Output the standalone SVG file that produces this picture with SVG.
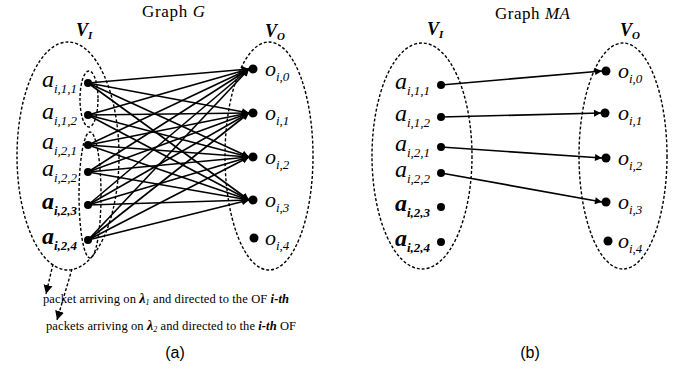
<svg xmlns="http://www.w3.org/2000/svg" width="686" height="369" viewBox="0 0 686 369">
<defs>
<marker id="ah" viewBox="0 0 10 10" refX="10" refY="5" markerWidth="9" markerHeight="7" markerUnits="userSpaceOnUse" orient="auto">
<path d="M0,0 L10,5 L0,10 z" fill="#000"/>
</marker>
<marker id="ah2" viewBox="0 0 10 10" refX="10" refY="5" markerWidth="9" markerHeight="10" markerUnits="userSpaceOnUse" orient="auto">
<path d="M0,0 L10,5 L0,10 z" fill="#000"/>
</marker>
</defs>
<style>
.set{fill:none;stroke:#000;stroke-width:1.4;stroke-dasharray:3 2}
.dot{fill:#000}
.e{stroke:#000;stroke-width:1.6;fill:none;marker-end:url(#ah)}
.lbl{font-family:"Liberation Serif","Times New Roman",serif;font-style:italic;fill:#000}
.big{font-size:24px}
.sub{font-size:13px}
.ob{font-size:22px}
.title{font-family:"Liberation Serif","Times New Roman",serif;font-size:17px;fill:#000}
.cap{font-family:"Liberation Sans",Arial,sans-serif;font-size:16px;fill:#000}
.note{font-family:"Liberation Serif","Times New Roman",serif;font-size:12.5px;fill:#000}
.dash{stroke:#000;stroke-width:1.4;stroke-dasharray:3 2;fill:none;marker-end:url(#ah2)}
</style>

<!-- Graph G -->
<text class="title" x="142" y="17" textLength="63">Graph <tspan font-style="italic">G</tspan></text>
<g id="VI_a">
<ellipse class="set" cx="68" cy="156" rx="51" ry="114"/>
<text class="lbl" x="76" y="36" font-weight="bold" font-size="18">V<tspan font-size="11" dy="3">I</tspan></text>
</g>
<g id="VO_a">
<ellipse class="set" cx="269" cy="156" rx="44" ry="114"/>
<text class="lbl" x="265" y="37" font-weight="bold" font-size="18">V<tspan font-size="11" dy="3">O</tspan></text>
</g>
<g id="grp1_a"><ellipse class="set" cx="89" cy="99" rx="9" ry="28"/></g>
<g id="grp2_a"><ellipse class="set" cx="90" cy="195" rx="11" ry="63"/></g>

<g id="connectors_a">
<line class="e" x1="88" y1="83" x2="249" y2="69"/>
<line class="e" x1="88" y1="83" x2="249" y2="113"/>
<line class="e" x1="88" y1="83" x2="249" y2="157"/>
<line class="e" x1="88" y1="83" x2="249" y2="200"/>
<line class="e" x1="88" y1="115" x2="249" y2="69"/>
<line class="e" x1="88" y1="115" x2="249" y2="113"/>
<line class="e" x1="88" y1="115" x2="249" y2="157"/>
<line class="e" x1="88" y1="115" x2="249" y2="200"/>
<line class="e" x1="88" y1="145" x2="249" y2="69"/>
<line class="e" x1="88" y1="145" x2="249" y2="113"/>
<line class="e" x1="88" y1="145" x2="249" y2="157"/>
<line class="e" x1="88" y1="145" x2="249" y2="200"/>
<line class="e" x1="88" y1="172" x2="249" y2="69"/>
<line class="e" x1="88" y1="172" x2="249" y2="113"/>
<line class="e" x1="88" y1="172" x2="249" y2="157"/>
<line class="e" x1="88" y1="172" x2="249" y2="200"/>
<line class="e" x1="88" y1="205" x2="249" y2="69"/>
<line class="e" x1="88" y1="205" x2="249" y2="113"/>
<line class="e" x1="88" y1="205" x2="249" y2="157"/>
<line class="e" x1="88" y1="205" x2="249" y2="200"/>
<line class="e" x1="88" y1="240" x2="249" y2="69"/>
<line class="e" x1="88" y1="240" x2="249" y2="113"/>
<line class="e" x1="88" y1="240" x2="249" y2="157"/>
<line class="e" x1="88" y1="240" x2="249" y2="200"/>
</g>

<g id="a111_a"><circle class="dot" cx="88" cy="83" r="4"/><text class="lbl" x="42" y="87"><tspan class="big">a</tspan><tspan class="sub" dy="6">i,1,1</tspan></text></g>
<g id="a112_a"><circle class="dot" cx="88" cy="115" r="4"/><text class="lbl" x="42" y="119"><tspan class="big">a</tspan><tspan class="sub" dy="6">i,1,2</tspan></text></g>
<g id="a121_a"><circle class="dot" cx="88" cy="145" r="4"/><text class="lbl" x="42" y="149"><tspan class="big">a</tspan><tspan class="sub" dy="6">i,2,1</tspan></text></g>
<g id="a122_a"><circle class="dot" cx="88" cy="172" r="4"/><text class="lbl" x="42" y="176"><tspan class="big">a</tspan><tspan class="sub" dy="6">i,2,2</tspan></text></g>
<g id="a123_a"><circle class="dot" cx="88" cy="205" r="4"/><text class="lbl" x="42" y="209" font-weight="bold"><tspan class="big">a</tspan><tspan class="sub" dy="6">i,2,3</tspan></text></g>
<g id="a124_a"><circle class="dot" cx="88" cy="240" r="4"/><text class="lbl" x="42" y="244" font-weight="bold"><tspan class="big">a</tspan><tspan class="sub" dy="6">i,2,4</tspan></text></g>

<g id="o0_a"><circle class="dot" cx="253" cy="69" r="4.5"/><text class="lbl" x="265" y="76"><tspan class="ob">o</tspan><tspan class="sub" dy="5">i,0</tspan></text></g>
<g id="o1_a"><circle class="dot" cx="253" cy="113" r="4.5"/><text class="lbl" x="265" y="120"><tspan class="ob">o</tspan><tspan class="sub" dy="5">i,1</tspan></text></g>
<g id="o2_a"><circle class="dot" cx="253" cy="157" r="4.5"/><text class="lbl" x="265" y="164"><tspan class="ob">o</tspan><tspan class="sub" dy="5">i,2</tspan></text></g>
<g id="o3_a"><circle class="dot" cx="253" cy="200" r="4.5"/><text class="lbl" x="265" y="207"><tspan class="ob">o</tspan><tspan class="sub" dy="5">i,3</tspan></text></g>
<g id="o4_a"><circle class="dot" cx="254" cy="238" r="4.5"/><text class="lbl" x="265" y="245"><tspan class="ob">o</tspan><tspan class="sub" dy="5">i,4</tspan></text></g>

<g id="notes_a">
<line class="dash" x1="53" y1="264" x2="46" y2="294"/>
<line class="dash" x1="72" y1="269" x2="57" y2="320"/>
<text class="note" x="43" y="303" textLength="246">packet arriving on <tspan font-style="italic" font-weight="bold" font-size="14">λ</tspan><tspan font-style="italic" font-size="8" dy="2">1</tspan><tspan dy="-2"> and directed to the OF </tspan><tspan font-style="italic" font-weight="bold">i-th</tspan></text>
<text class="note" x="46" y="330" textLength="250">packets arriving on <tspan font-style="italic" font-weight="bold" font-size="14">λ</tspan><tspan font-style="italic" font-size="8" dy="2">2</tspan><tspan dy="-2"> and directed to the </tspan><tspan font-style="italic" font-weight="bold">i-th</tspan> OF</text>
</g>
<text class="cap" x="175" y="358" text-anchor="middle">(a)</text>

<!-- Graph MA -->
<text class="title" x="495" y="19" textLength="75">Graph <tspan font-style="italic">MA</tspan></text>
<g id="VI_b">
<ellipse class="set" cx="422" cy="156" rx="50" ry="113"/>
<text class="lbl" x="427" y="35" font-weight="bold" font-size="18">V<tspan font-size="11" dy="3">I</tspan></text>
</g>
<g id="VO_b">
<ellipse class="set" cx="623" cy="156" rx="44" ry="113"/>
<text class="lbl" x="620" y="36" font-weight="bold" font-size="18">V<tspan font-size="11" dy="3">O</tspan></text>
</g>

<g id="connectors_b">
<line class="e" x1="441" y1="85" x2="602" y2="71"/>
<line class="e" x1="441" y1="117" x2="601" y2="113"/>
<line class="e" x1="441" y1="147" x2="602" y2="158"/>
<line class="e" x1="441" y1="173" x2="602" y2="202"/>
</g>

<g id="a111_b"><circle class="dot" cx="441" cy="85" r="4"/><text class="lbl" x="395" y="89"><tspan class="big">a</tspan><tspan class="sub" dy="6">i,1,1</tspan></text></g>
<g id="a112_b"><circle class="dot" cx="441" cy="117" r="4"/><text class="lbl" x="395" y="121"><tspan class="big">a</tspan><tspan class="sub" dy="6">i,1,2</tspan></text></g>
<g id="a121_b"><circle class="dot" cx="441" cy="147" r="4"/><text class="lbl" x="395" y="151"><tspan class="big">a</tspan><tspan class="sub" dy="6">i,2,1</tspan></text></g>
<g id="a122_b"><circle class="dot" cx="441" cy="173" r="4"/><text class="lbl" x="395" y="177"><tspan class="big">a</tspan><tspan class="sub" dy="6">i,2,2</tspan></text></g>
<g id="a123_b"><circle class="dot" cx="441" cy="207" r="4"/><text class="lbl" x="395" y="211" font-weight="bold"><tspan class="big">a</tspan><tspan class="sub" dy="6">i,2,3</tspan></text></g>
<g id="a124_b"><circle class="dot" cx="441" cy="242" r="4"/><text class="lbl" x="395" y="246" font-weight="bold"><tspan class="big">a</tspan><tspan class="sub" dy="6">i,2,4</tspan></text></g>

<g id="o0_b"><circle class="dot" cx="606" cy="71" r="4.5"/><text class="lbl" x="618" y="78"><tspan class="ob">o</tspan><tspan class="sub" dy="5">i,0</tspan></text></g>
<g id="o1_b"><circle class="dot" cx="605" cy="113" r="4.5"/><text class="lbl" x="618" y="120"><tspan class="ob">o</tspan><tspan class="sub" dy="5">i,1</tspan></text></g>
<g id="o2_b"><circle class="dot" cx="606" cy="158" r="4.5"/><text class="lbl" x="618" y="165"><tspan class="ob">o</tspan><tspan class="sub" dy="5">i,2</tspan></text></g>
<g id="o3_b"><circle class="dot" cx="606" cy="202" r="4.5"/><text class="lbl" x="618" y="209"><tspan class="ob">o</tspan><tspan class="sub" dy="5">i,3</tspan></text></g>
<g id="o4_b"><circle class="dot" cx="608" cy="241" r="4.5"/><text class="lbl" x="618" y="248"><tspan class="ob">o</tspan><tspan class="sub" dy="5">i,4</tspan></text></g>

<text class="cap" x="530" y="358" text-anchor="middle">(b)</text>
</svg>
